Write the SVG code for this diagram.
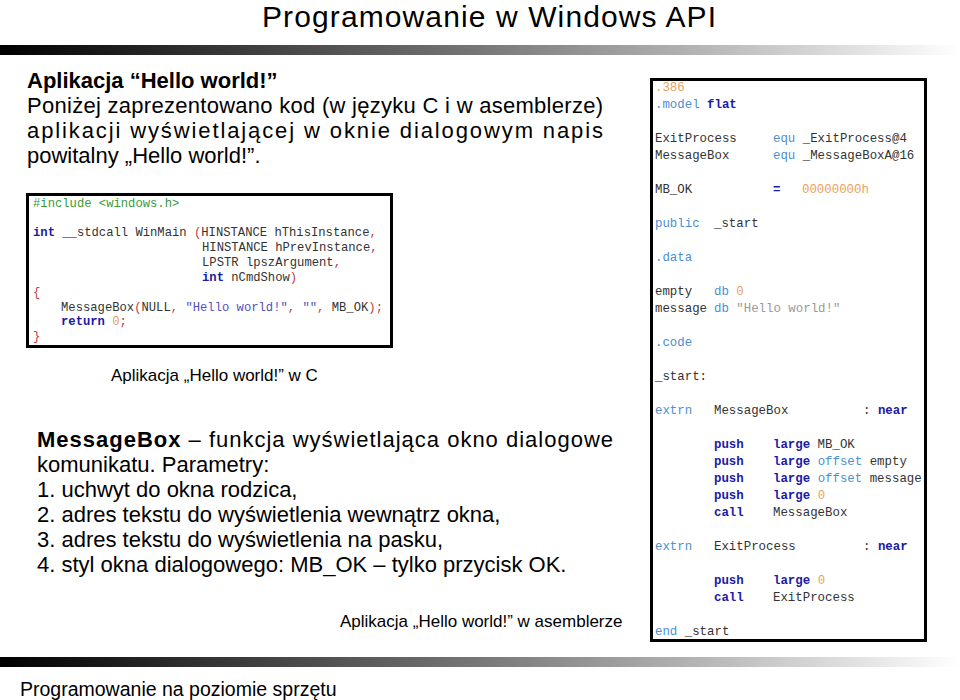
<svg xmlns="http://www.w3.org/2000/svg" width="960" height="700" viewBox="0 0 960 700">
<style>
.s{font-family:"Liberation Sans",Arial,sans-serif;fill:#000}
.m{font-family:"Liberation Mono","Courier New",monospace;font-size:12.4px;fill:#333;white-space:pre}
.k{fill:#1a1aa6;font-weight:bold}
.b{fill:#4a90d0}
.o{fill:#e8a060}
.g{fill:#999}
.gr{fill:#3a9a3a}
.r{fill:#c04040}
.str{fill:#5050c0}
</style>
<defs>
<linearGradient id="bar" x1="0" x2="1" y1="0" y2="0">
<stop offset="0" stop-color="#000"/><stop offset="0.5" stop-color="#777"/><stop offset="1" stop-color="#fff"/>
</linearGradient>
</defs>
<rect width="960" height="700" fill="#fff"/>
<text class="s" x="262" y="27" font-size="30" textLength="454">Programowanie w Windows API</text>
<rect x="0" y="45" width="960" height="10" fill="url(#bar)"/>
<rect x="0" y="657" width="960" height="10" fill="url(#bar)"/>
<text class="s" x="20" y="696" font-size="19.5">Programowanie na poziomie sprzętu</text>

<g id="intro" class="s" font-size="22">
<text x="27" y="88" font-weight="bold">Aplikacja “Hello world!”</text>
<text x="27" y="113" textLength="576">Poniżej zaprezentowano kod (w języku C i w asemblerze)</text>
<text x="27" y="138" textLength="576">aplikacji wyświetlającej w oknie dialogowym napis</text>
<text x="27" y="163">powitalny „Hello world!”.</text>
</g>

<g id="ccode">
<rect x="27.5" y="194.5" width="364" height="152" fill="#fff" stroke="#000" stroke-width="3"/>
<g class="m" style="font-size:12.2px">
<text x="33" y="207" class="gr">#include &lt;windows.h&gt;</text>
<text x="33" y="236"><tspan class="k">int</tspan> __stdcall WinMain <tspan class="r">(</tspan>HINSTANCE hThisInstance<tspan class="r">,</tspan></text>
<text x="202" y="251">HINSTANCE hPrevInstance<tspan class="r">,</tspan></text>
<text x="202" y="266">LPSTR lpszArgument<tspan class="r">,</tspan></text>
<text x="202" y="281"><tspan class="k">int</tspan> nCmdShow<tspan class="r">)</tspan></text>
<text x="33" y="296" class="r">{</text>
<text x="61" y="311">MessageBox<tspan class="r">(</tspan>NULL<tspan class="r">,</tspan> <tspan class="str">"Hello world!"</tspan><tspan class="r">,</tspan> <tspan class="str">""</tspan><tspan class="r">,</tspan> MB_OK<tspan class="r">);</tspan></text>
<text x="61" y="325"><tspan class="k">return</tspan> <tspan class="o">0</tspan><tspan class="r">;</tspan></text>
<text x="33" y="340" class="r">}</text>
</g>
</g>
<text class="s" x="111" y="381" font-size="17">Aplikacja „Hello world!” w C</text>

<g id="asm">
<rect x="651.5" y="79.5" width="274" height="561" fill="#fff" stroke="#000" stroke-width="3"/>
<g class="m">
<text x="655" y="91" class="o">.386</text>
<text x="655" y="108"><tspan class="b">.model</tspan> <tspan class="k">flat</tspan></text>
<text x="655" y="142">ExitProcess</text><text x="773" y="142"><tspan class="b">equ</tspan> _ExitProcess@4</text>
<text x="655" y="159">MessageBox</text><text x="773" y="159"><tspan class="b">equ</tspan> _MessageBoxA@16</text>
<text x="655" y="193">MB_OK</text><text x="773" y="193" class="k">=</text><text x="802" y="193" class="o">00000000h</text>
<text x="655" y="227" class="b">public</text><text x="714" y="227">_start</text>
<text x="655" y="261" class="b">.data</text>
<text x="655" y="295">empty</text><text x="714" y="295"><tspan class="b">db</tspan> <tspan class="o">0</tspan></text>
<text x="655" y="312">message</text><text x="714" y="312"><tspan class="b">db</tspan> <tspan class="g">"Hello world!"</tspan></text>
<text x="655" y="346" class="b">.code</text>
<text x="655" y="380">_start:</text>
<text x="655" y="414" class="b">extrn</text><text x="714" y="414">MessageBox</text><text x="863" y="414">: <tspan class="k">near</tspan></text>
<text x="714" y="448" class="k">push</text><text x="773" y="448"><tspan class="k">large</tspan> MB_OK</text>
<text x="714" y="465" class="k">push</text><text x="773" y="465"><tspan class="k">large</tspan> <tspan class="b">offset</tspan> empty</text>
<text x="714" y="482" class="k">push</text><text x="773" y="482"><tspan class="k">large</tspan> <tspan class="b">offset</tspan> message</text>
<text x="714" y="499" class="k">push</text><text x="773" y="499"><tspan class="k">large</tspan> <tspan class="o">0</tspan></text>
<text x="714" y="516" class="k">call</text><text x="773" y="516">MessageBox</text>
<text x="655" y="550" class="b">extrn</text><text x="714" y="550">ExitProcess</text><text x="863" y="550">: <tspan class="k">near</tspan></text>
<text x="714" y="584" class="k">push</text><text x="773" y="584"><tspan class="k">large</tspan> <tspan class="o">0</tspan></text>
<text x="714" y="601" class="k">call</text><text x="773" y="601">ExitProcess</text>
<text x="655" y="635"><tspan class="b">end</tspan> _start</text>
</g>
</g>
<text class="s" x="340" y="627" font-size="17">Aplikacja „Hello world!” w asemblerze</text>

<g id="desc" class="s" font-size="22">
<text x="37" y="447" textLength="576"><tspan font-weight="bold">MessageBox</tspan> – funkcja wyświetlająca okno dialogowe</text>
<text x="37" y="472">komunikatu. Parametry:</text>
<text x="37" y="497">1. uchwyt do okna rodzica,</text>
<text x="37" y="522">2. adres tekstu do wyświetlenia wewnątrz okna,</text>
<text x="37" y="547">3. adres tekstu do wyświetlenia na pasku,</text>
<text x="37" y="572">4. styl okna dialogowego: MB_OK – tylko przycisk OK.</text>
</g>
</svg>
